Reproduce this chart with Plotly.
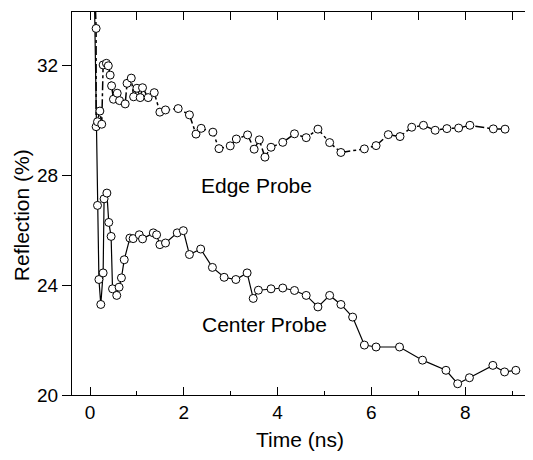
import plotly.graph_objects as go

# Edge probe data (time in ns, reflection in %)
edge_t = [0.08, 0.13, 0.13, 0.16, 0.21, 0.25, 0.28, 0.35, 0.39, 0.43, 0.46, 0.50, 0.58, 0.63,
          0.75, 0.79, 0.88, 0.93, 1.00, 1.07, 1.12, 1.24, 1.37, 1.49, 1.61, 1.88, 2.12,
          2.26, 2.37, 2.62, 2.75, 2.99, 3.12, 3.36, 3.50, 3.61, 3.73, 3.86, 4.11, 4.36,
          4.61, 4.86, 5.11, 5.35, 5.85, 6.10, 6.36, 6.61, 6.86, 7.11, 7.36, 7.61, 7.86,
          8.10, 8.60, 8.85]
edge_r = [36.0, 33.36, 29.78, 29.96, 30.35, 29.87, 32.03, 32.09, 32.00, 31.66, 31.27, 30.78, 31.00, 30.73,
          30.61, 31.36, 31.55, 30.87, 31.18, 30.84, 31.20, 30.84, 31.02, 30.31, 30.39, 30.44, 30.21,
          29.51, 29.72, 29.58, 28.98, 29.08, 29.33, 29.48, 28.96, 29.30, 28.67, 29.03, 29.21, 29.52,
          29.38, 29.69, 29.20, 28.84, 28.97, 29.09, 29.49, 29.42, 29.76, 29.83, 29.65, 29.71, 29.73,
          29.83, 29.70, 29.69]

# Center probe data
center_t = [0.08, 0.16, 0.19, 0.23, 0.28, 0.30, 0.36, 0.40, 0.45, 0.48, 0.57, 0.62, 0.67, 0.73,
            0.85, 0.92, 1.05, 1.12, 1.35, 1.42, 1.49, 1.61, 1.86, 1.99, 2.12, 2.36, 2.61,
            2.86, 3.11, 3.35, 3.48, 3.59, 3.86, 4.11, 4.36, 4.61, 4.86, 5.11, 5.35, 5.60,
            5.85, 6.10, 6.60, 7.09, 7.59, 7.84, 8.09, 8.59, 8.84, 9.08]
center_r = [36.0, 26.91, 24.21, 23.30, 24.45, 27.15, 27.36, 26.29, 25.78, 23.87, 23.63, 23.93, 24.27, 24.93,
            25.72, 25.70, 25.84, 25.69, 25.91, 25.84, 25.48, 25.54, 25.91, 25.99, 25.12, 25.32, 24.65,
            24.29, 24.21, 24.45, 23.52, 23.82, 23.87, 23.90, 23.81, 23.63, 23.21, 23.63, 23.30, 22.84,
            21.82, 21.75, 21.75, 21.27, 20.90, 20.41, 20.63, 21.08, 20.84, 20.90]

x_ticks = [0, 2, 4, 6, 8]
y_ticks = [20, 24, 28, 32]
x_range = [-0.384, 9.446]
y_range = [20, 33.96]

FONT = "Liberation Sans, Arial, sans-serif"
marker = dict(symbol="circle", size=8, color="white", line=dict(color="black", width=1))

fig = go.Figure()
fig.add_trace(go.Scatter(x=center_t, y=center_r, mode="lines+markers",
                         line=dict(color="black", width=1.2), marker=marker, showlegend=False))
fig.add_trace(go.Scatter(x=edge_t, y=edge_r, mode="lines+markers",
                         line=dict(color="black", width=1.5, dash="dashdot"), marker=marker, showlegend=False))

fig.update_layout(
    width=525, height=452,
    margin=dict(l=64, r=0, t=4, b=65, autoexpand=False),
    paper_bgcolor="white", plot_bgcolor="white",
    font=dict(family=FONT, color="black", size=18),
    xaxis=dict(range=x_range, tickvals=x_ticks, ticks="inside", ticklen=8, tickwidth=1,
               tickcolor="black", showline=True, linecolor="black", linewidth=1,
               showgrid=False, zeroline=False, tickfont=dict(size=19), automargin=False,
               minor=dict(dtick=1, tick0=0, ticks="inside", ticklen=4, tickcolor="black", showgrid=False)),
    xaxis2=dict(range=x_range, overlaying="x", side="top", dtick=1, tick0=0, ticks="inside",
                ticklen=8, tickcolor="black", showline=True, linecolor="black", linewidth=1,
                showticklabels=False, showgrid=False, zeroline=False, automargin=False),
    yaxis=dict(range=y_range, tickvals=y_ticks, ticks="outside", ticklen=9, tickwidth=1,
               tickcolor="black", showline=True, linecolor="black", linewidth=1,
               showgrid=False, zeroline=False, tickfont=dict(size=19), automargin=False),
    yaxis2=dict(range=y_range, overlaying="y", side="right", tickvals=y_ticks, ticks="inside",
                ticklen=7, tickcolor="black", showline=False, showticklabels=False,
                showgrid=False, zeroline=False, automargin=False),
    annotations=[
        dict(x=3.56, y=27.62, xref="x", yref="y", text="Edge Probe", showarrow=False,
             font=dict(size=21)),
        dict(x=3.72, y=22.56, xref="x", yref="y", text="Center Probe", showarrow=False,
             font=dict(size=21)),
        dict(x=0.4936, y=-0.115, xref="paper", yref="paper", text="Time (ns)", showarrow=False,
             font=dict(size=21), yanchor="middle"),
        dict(x=-0.108, y=0.47, xref="paper", yref="paper", text="Reflection (%)", showarrow=False,
             font=dict(size=21), textangle=-90, xanchor="center", yanchor="middle"),
    ],
)
# invisible trace to activate overlay axes
fig.add_trace(go.Scatter(x=[None], y=[None], xaxis="x2", yaxis="y2", showlegend=False, hoverinfo="skip"))

fig.write_html("out.html")
